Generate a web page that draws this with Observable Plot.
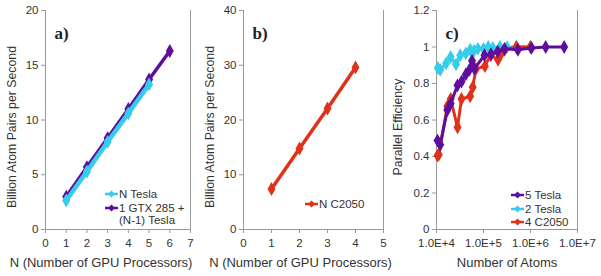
<!DOCTYPE html>
<html><head><meta charset="utf-8">
<script src="https://cdn.jsdelivr.net/npm/d3@7"></script>
<script src="https://cdn.jsdelivr.net/npm/@observablehq/plot@0.6"></script>
<style>
html,body{margin:0;padding:0;background:#fff;}
#wrap{position:relative;width:601px;height:276px;font-family:"Liberation Sans",Arial,sans-serif;}
#wrap > svg{position:absolute;top:0;}
.leg{position:absolute;font-size:11.5px;color:#333;line-height:12.5px;}
.row{display:flex;align-items:flex-start;margin-bottom:1px;}
.sw{flex:none;margin-right:1px;}
</style></head>
<body><div id="wrap"></div>
<script>
// Panel a
const nA = [1, 2, 3, 4, 5];
const nTesla = [2.65, 5.3, 8.0, 10.6, 13.25];
const nGtx = [1, 2, 3, 4, 5, 6];
const gtxTesla = [3.0, 5.7, 8.35, 11.0, 13.7, 16.3];
const xTicksA = [0, 1, 2, 3, 4, 5, 6, 7];
const yTicksA = [0, 5, 10, 15, 20];
// Panel b
const nB = [1, 2, 3, 4];
const c2050 = [7.4, 14.8, 22.1, 29.6];
const xTicksB = [0, 1, 2, 3, 4, 5];
const yTicksB = [0, 10, 20, 30, 40];
// Panel c
const atoms5Tesla = [10500, 12000, 17000, 20000, 28000, 34000, 42000, 50000, 57000, 64000, 105000, 145000, 200000, 280000, 540000, 1050000, 2100000, 5200000];
const eff5Tesla = [0.487, 0.465, 0.655, 0.69, 0.79, 0.81, 0.85, 0.875, 0.925, 0.88, 0.955, 0.96, 0.975, 0.99, 0.985, 0.995, 1.0, 1.0];
const atoms2Tesla = [10700, 12000, 16000, 20000, 26000, 32000, 42000, 52000, 63000, 76000, 100000, 126000, 158000, 224000, 316000, 500000, 1000000];
const eff2Tesla = [0.885, 0.875, 0.91, 0.945, 0.905, 0.955, 0.965, 0.985, 0.98, 0.99, 0.99, 1.0, 0.995, 1.0, 1.0, 1.0, 1.0];
const atoms4C2050 = [10500, 11200, 17000, 20000, 28000, 34000, 52000, 59000, 69000, 107000, 141000, 204000, 240000, 282000, 500000, 1000000];
const eff4C2050 = [0.405, 0.41, 0.675, 0.715, 0.56, 0.715, 0.73, 0.78, 0.88, 0.895, 0.955, 0.93, 0.965, 0.985, 1.0, 1.0];
const xTicksC = [1e4, 1e5, 1e6, 1e7];
const yTicksC = [0, 0.2, 0.4, 0.6, 0.8, 1, 1.2];

const CYAN = "#35CDEA", PURPLE = "#5E0E9C", RED = "#E0321A";
const AX = "#9a9a9a", TXT = "#333";
const zip = (xs, ys) => xs.map((x, i) => ({x, y: ys[i]}));

function panel({width, left, mL, mR, xOpts, yOpts, xTicks, yTicks, xFmt, yFmt, xLabel, yLabel, series, tag, yLabelDx, xLabelDx}) {
  const marks = [
    Plot.ruleY([yOpts.domain[0]], {stroke: AX}),
    Plot.ruleX([xOpts.domain[0], xOpts.domain[1]], {stroke: AX}),
    Plot.axisX({ticks: xTicks, tickFormat: xFmt, tickSize: 4, tickPadding: 5, stroke: AX, color: TXT, fontSize: 11.5, label: null}),
    Plot.axisY({ticks: yTicks, tickFormat: yFmt, tickSize: 4, tickPadding: 3, stroke: AX, color: TXT, fontSize: 11.5, label: null}),
    Plot.text([xLabel], {frameAnchor: "bottom", text: d => d, textAnchor: "middle", lineAnchor: "middle", dy: 33, dx: xLabelDx, fontSize: 13, fill: TXT}),
    Plot.text([yLabel], {frameAnchor: "left", text: d => d, textAnchor: "middle", lineAnchor: "middle", rotate: -90, dx: yLabelDx, dy: 7, fontSize: 12.3, fill: TXT}),
  ];
  for (const s of series) {
    marks.push(Plot.line(s.data, {x: "x", y: "y", stroke: s.color, strokeWidth: s.w}));
    marks.push(Plot.dot(s.data, {x: "x", y: "y", fill: s.color, symbol: "diamond", r: 4.2}));
  }
  marks.push(Plot.text([tag], {frameAnchor: "top-left", dx: 9, dy: 16, text: d => d, fontSize: 17, fontWeight: "bold",
    fontFamily: "Liberation Serif, serif", fill: "#222"}));
  const svg = Plot.plot({
    width, height: 276, marginLeft: mL, marginRight: mR, marginTop: 10, marginBottom: 47,
    style: {background: "transparent", fontFamily: "Liberation Sans, Arial, sans-serif", color: TXT, overflow: "visible"},
    x: xOpts, y: yOpts, marks
  });
  svg.style.left = left + "px";
  return svg;
}

const wrap = document.getElementById("wrap");
const fmtInt = d => String(d);
wrap.appendChild(panel({
  width: 200, left: 0, mL: 45, mR: 10,
  xOpts: {domain: [0, 7]}, yOpts: {domain: [0, 20]},
  xTicks: xTicksA, yTicks: yTicksA, xFmt: fmtInt, yFmt: fmtInt,
  xLabel: "N (Number of GPU Processors)", yLabel: "Billion Atom Pairs per Second", yLabelDx: -33, xLabelDx: -17,
  series: [
    {data: zip(nGtx, gtxTesla), color: PURPLE, w: 3.5},
    {data: zip(nA, nTesla), color: CYAN, w: 4.5}
  ], tag: "a)"
}));
wrap.appendChild(panel({
  width: 200, left: 200, mL: 43, mR: 17,
  xOpts: {domain: [0, 5]}, yOpts: {domain: [0, 40]},
  xTicks: xTicksB, yTicks: yTicksB, xFmt: fmtInt, yFmt: fmtInt,
  xLabel: "N (Number of GPU Processors)", yLabel: "Billion Atom Pairs per Second", yLabelDx: -33, xLabelDx: -13,
  series: [{data: zip(nB, c2050), color: RED, w: 3.5}], tag: "b)"
}));
wrap.appendChild(panel({
  width: 211, left: 390, mL: 46, mR: 24,
  xOpts: {type: "log", domain: [1e4, 1e7]}, yOpts: {domain: [0, 1.2]},
  xTicks: xTicksC, yTicks: yTicksC, xFmt: d => "1.0E+" + Math.round(Math.log10(d)), yFmt: d => String(d),
  xLabel: "Number of Atoms", yLabel: "Parallel Efficiency", yLabelDx: -38, xLabelDx: 0,
  series: [
    {data: zip(atoms2Tesla, eff2Tesla), color: CYAN, w: 3},
    {data: zip(atoms4C2050, eff4C2050), color: RED, w: 3},
    {data: zip(atoms5Tesla, eff5Tesla), color: PURPLE, w: 3}
  ], tag: "c)"
}));

function swatch(color) {
  return `<svg class="sw" width="13" height="12" viewBox="0 0 13 12"><line x1="0" x2="13" y1="6" y2="6" stroke="${color}" stroke-width="2.5"/><path d="M6.5 2.5L10 6L6.5 9.5L3 6Z" fill="${color}"/></svg>`;
}
function legend(left, top, items) {
  const d = document.createElement("div");
  d.className = "leg";
  d.style.left = left + "px"; d.style.top = top + "px";
  d.innerHTML = items.map(([c, t]) => `<div class="row">${swatch(c)}<span>${t}</span></div>`).join("");
  wrap.appendChild(d);
}
legend(105, 188, [[CYAN, "N Tesla"], [PURPLE, "1 GTX 285 +<br>(N-1) Tesla"]]);
legend(305, 198, [[RED, "N C2050"]]);
legend(511, 189, [[PURPLE, "5 Tesla"], [CYAN, "2 Tesla"], [RED, "4 C2050"]]);
</script></body></html>
